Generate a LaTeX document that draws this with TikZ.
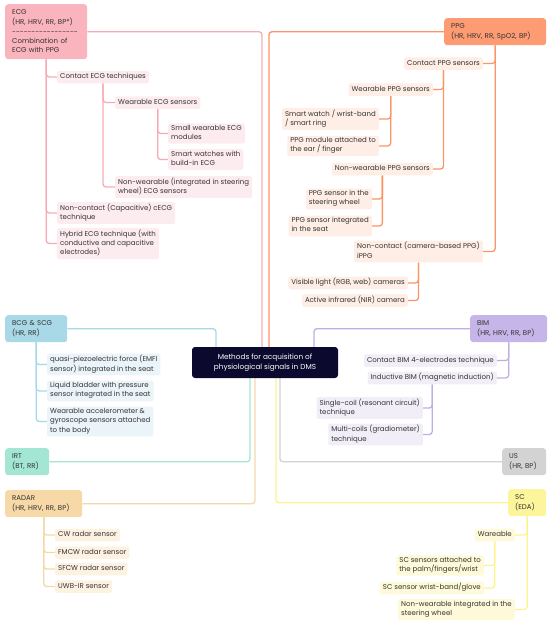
\documentclass[tikz,border=0pt]{standalone}
\usepackage{fontspec}
\setmainfont{Poppins}
\usetikzlibrary{backgrounds}
\definecolor{txtgray}{HTML}{333333}
\definecolor{navy}{HTML}{0B0A2E}
\definecolor{ecghead}{HTML}{F9B4BE}
\definecolor{ecgline}{HTML}{F7AAB6}
\definecolor{ecgleaf}{HTML}{FDECEF}
\definecolor{ppghead}{HTML}{FD9B72}
\definecolor{ppgline}{HTML}{FB9466}
\definecolor{ppgleaf}{HTML}{FEEEE6}
\definecolor{bcghead}{HTML}{A9D8E6}
\definecolor{bcgline}{HTML}{A6D9E6}
\definecolor{bcgleaf}{HTML}{EBF4F8}
\definecolor{irthead}{HTML}{A3E6D3}
\definecolor{radarhead}{HTML}{F6D9A6}
\definecolor{radarline}{HTML}{F4D8A6}
\definecolor{radarleaf}{HTML}{FDF2E1}
\definecolor{bimhead}{HTML}{C6B5E8}
\definecolor{bimline}{HTML}{C0ADE5}
\definecolor{bimleaf}{HTML}{F1EEF8}
\definecolor{ushead}{HTML}{D3D3D3}
\definecolor{schead}{HTML}{FDF59C}
\definecolor{scline}{HTML}{FDF38E}
\definecolor{scleaf}{HTML}{FEFAD9}
\tikzset{
    every node/.style={font=\fontsize{7}{9.3}\selectfont, text=txtgray},
    head/.style={fill=#1, rounded corners=3pt, align=left, anchor=north west,
        inner xsep=7pt, inner ysep=3.7pt,
        execute at begin node=\strut, execute at end node=\strut},
    leaf/.style={fill=#1, rounded corners=2pt, align=left,
        inner xsep=3pt, inner ysep=1.6pt,
        execute at begin node=\strut, execute at end node=\strut},
    link/.style={draw=#1, line width=1.3pt, rounded corners=3pt}
}

\begin{document}
\begin{tikzpicture}[x=1pt, y=-1pt]
    \useasboundingbox (0,0) rectangle (550,625);
    % centre
    \node[fill=navy, rounded corners=3pt, text=white, align=center,
        font=\fontsize{7.3}{9.7}\selectfont,
        minimum width=146pt, minimum height=31pt] (methods) at (265,362.5)
        {Methods for acquisition of\\physiological signals in DMS};
    % heads
    \node[head=ecghead, text width=68pt] (ecg) at (5,4)
        {ECG\\(HR, HRV, RR, BP*)\\-{}-{}-{}-{}-{}-{}-{}-{}-{}-{}-{}-{}-{}-{}-{}-{}-{}\\*Combination of\\ECG with PPG};
    \node[head=ppghead, text width=88pt] (ppg) at (444,18) {PPG\\(HR, HRV, RR, SpO2, BP)};
    \node[head=bcghead, text width=48pt] (bcg) at (5,315) {BCG \& SCG\\(HR, RR)};
    \node[head=irthead, text width=30pt] (irt) at (5,448) {IRT\\(BT, RR)};
    \node[head=radarhead, text width=63pt] (radar) at (5,490) {RADAR\\(HR, HRV, RR, BP)};
    \node[head=bimhead, text width=63pt] (bim) at (470,315) {BIM\\(HR, HRV, RR, BP)};
    \node[head=ushead, text width=30pt] (us) at (502,448) {US\\(HR, BP)};
    \node[head=schead, text width=24pt] (sc) at (508,489) {SC\\(EDA)};
    % ECG tree
    \node[leaf=ecgleaf, anchor=west] (ecgcontact) at (57,77) {Contact ECG techniques};
    \node[leaf=ecgleaf, anchor=west] (ecgwear) at (115,102.5) {Wearable ECG sensors};
    \node[leaf=ecgleaf, anchor=west] (ecgsmall) at (168,133.5) {Small wearable ECG\\modules};
    \node[leaf=ecgleaf, anchor=west] (ecgwatch) at (168,159.5) {Smart watches with\\build-in ECG};
    \node[leaf=ecgleaf, anchor=west] (ecgnonwear) at (115,187) {Non-wearable (integrated in steering\\wheel) ECG sensors};
    \node[leaf=ecgleaf, anchor=west] (ecgcap) at (57,213) {Non-contact (Capacitive) cECG\\technique};
    \node[leaf=ecgleaf, anchor=west] (ecghybrid) at (57,243.5) {Hybrid ECG technique (with\\conductive and capacitive\\electrodes)};
    % PPG tree
    \node[leaf=ppgleaf, anchor=east] (ppgcontact) at (483,63.5) {Contact PPG sensors};
    \node[leaf=ppgleaf, anchor=east] (ppgwear) at (433,89.5) {Wearable PPG sensors};
    \node[leaf=ppgleaf, anchor=east] (ppgwatch) at (379,119) {Smart watch / wrist-band\\/ smart ring};
    \node[leaf=ppgleaf, anchor=east] (ppgear) at (379,146) {PPG module attached to\\the ear / finger};
    \node[leaf=ppgleaf, anchor=east] (ppgnonwear) at (433,169) {Non-wearable PPG sensors};
    \node[leaf=ppgleaf, anchor=east] (ppgwheel) at (372,199) {PPG sensor in the\\steering wheel};
    \node[leaf=ppgleaf, anchor=east] (ppgseat) at (372,226) {PPG sensor integrated\\in the seat};
    \node[leaf=ppgleaf, anchor=east] (ppgcam) at (483,251.5) {Non-contact (camera-based PPG)\\iPPG};
    \node[leaf=ppgleaf, anchor=east] (ppgrgb) at (408,283) {Visible light (RGB, web) cameras};
    \node[leaf=ppgleaf, anchor=east] (ppgnir) at (408,300.5) {Active infrared (NIR) camera};
    % BCG tree
    \node[leaf=bcgleaf, anchor=west] (bcgemfi) at (47,364.5) {quasi-piezoelectric force (EMFI\\sensor) integrated in the seat};
    \node[leaf=bcgleaf, anchor=west] (bcgbladder) at (47,391) {Liquid bladder with pressure\\sensor integrated in the seat};
    \node[leaf=bcgleaf, anchor=west] (bcgaccel) at (47,421.5) {Wearable accelerometer \&\\gyroscope sensors attached\\to the body};
    % RADAR tree
    \node[leaf=radarleaf, anchor=west] (radarcw) at (55,535) {CW radar sensor};
    \node[leaf=radarleaf, anchor=west] (radarfmcw) at (55,552.5) {FMCW radar sensor};
    \node[leaf=radarleaf, anchor=west] (radarsfcw) at (55,569) {SFCW radar sensor};
    \node[leaf=radarleaf, anchor=west] (radaruwb) at (55,586.5) {UWB-IR sensor};
    % BIM tree
    \node[leaf=bimleaf, anchor=east] (bimcontact) at (497,360.5) {Contact BIM 4-electrodes technique};
    \node[leaf=bimleaf, anchor=east] (biminduct) at (497,378) {Inductive BIM (magnetic induction)};
    \node[leaf=bimleaf, anchor=east] (bimsingle) at (423,408) {Single-coil (resonant circuit)\\technique};
    \node[leaf=bimleaf, anchor=east] (bimmulti) at (423,434.5) {Multi-coils (gradiometer)\\technique};
    % SC tree
    \node[leaf=scleaf, anchor=east] (scwear) at (515,535) {Wareable};
    \node[leaf=scleaf, anchor=east] (scpalm) at (484,565.5) {SC sensors attached to\\the palm/fingers/wrist};
    \node[leaf=scleaf, anchor=east] (scglove) at (484,588) {SC sensor wrist-band/glove};
    \node[leaf=scleaf, anchor=east] (scsteer) at (515,609.5) {Non-wearable integrated in the\\steering wheel};
    \begin{scope}[on background layer]
    % branches to the centre
    \draw[link=ecgline] (ecg.east) -| ([xshift=-3pt]methods.north);
    \draw[link=ppgline] (ppg.west) -| ([xshift=4pt]methods.north);
    \draw[link=bcgline] (bcg.east) -| ([xshift=-49pt]methods.north);
    \draw[link=bimline] (bim.west) -| ([xshift=49pt]methods.north);
    \draw[link=irthead] (irt.east) -| ([xshift=-15pt]methods.south);
    \draw[link=radarline] (radar.east) -| ([xshift=-10pt]methods.south);
    \draw[link=scline] (sc.west) -| ([xshift=11pt]methods.south);
    \draw[link=ushead] (us.west) -| ([xshift=15pt]methods.south);
    % ECG
    \foreach \c in {ecgcontact, ecgcap, ecghybrid}
        \draw[link=ecgline] (ecg.south) |- (\c.west);
    \foreach \c in {ecgwear, ecgnonwear}
        \draw[link=ecgline] (ecgcontact.south) |- (\c.west);
    \foreach \c in {ecgsmall, ecgwatch}
        \draw[link=ecgline] (ecgwear.south) |- (\c.west);
    % PPG
    \foreach \c in {ppgcontact, ppgcam}
        \draw[link=ppgline] (ppg.south) |- (\c.east);
    \foreach \c in {ppgwear, ppgnonwear}
        \draw[link=ppgline] (ppgcontact.south) |- (\c.east);
    \foreach \c in {ppgwatch, ppgear}
        \draw[link=ppgline] (ppgwear.south) |- (\c.east);
    \foreach \c in {ppgwheel, ppgseat}
        \draw[link=ppgline] (ppgnonwear.south) |- (\c.east);
    \foreach \c in {ppgrgb, ppgnir}
        \draw[link=ppgline] (ppgcam.south) |- (\c.east);
    % BCG
    \foreach \c in {bcgemfi, bcgbladder, bcgaccel}
        \draw[link=bcgline] (bcg.south) |- (\c.west);
    % RADAR
    \foreach \c in {radarcw, radarfmcw, radarsfcw, radaruwb}
        \draw[link=radarline] (radar.south) |- (\c.west);
    % BIM
    \foreach \c in {bimcontact, biminduct}
        \draw[link=bimline] (bim.south) |- (\c.east);
    \foreach \c in {bimsingle, bimmulti}
        \draw[link=bimline] (biminduct.south) |- (\c.east);
    % SC
    \foreach \c in {scwear, scsteer}
        \draw[link=scline] (sc.south) |- (\c.east);
    \foreach \c in {scpalm, scglove}
        \draw[link=scline] (scwear.south) |- (\c.east);
    \end{scope}
\end{tikzpicture}
\end{document}
